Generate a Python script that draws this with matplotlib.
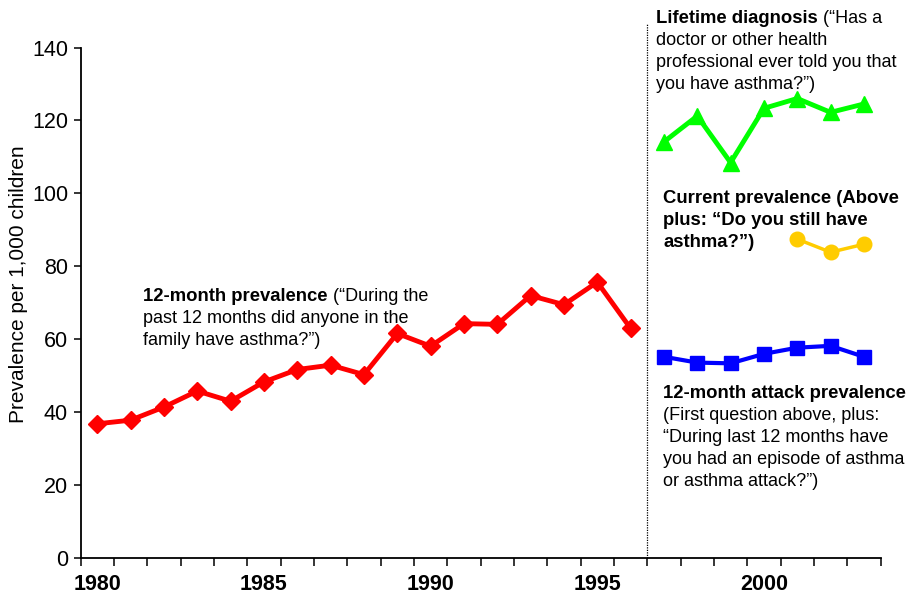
import matplotlib
matplotlib.use("Agg")
import matplotlib.pyplot as plt
from matplotlib import font_manager
from matplotlib.ticker import FixedLocator, NullFormatter

# ---- data ----
years_12m = list(range(1980, 1997))
prev_12m = [36.7, 37.7, 41.3, 45.7, 42.9, 48.2, 51.6, 52.8, 50.2, 61.5,
            58.0, 64.2, 64.0, 71.9, 69.4, 75.6, 62.9]
years_new = list(range(1997, 2004))
lifetime = [114.1, 121.2, 108.4, 123.3, 126.0, 122.2, 124.5]
attack_12m = [55.1, 53.5, 53.3, 55.9, 57.6, 58.1, 55.1]
years_current = [2001, 2002, 2003]
current = [87.4, 83.8, 86.0]
year_labels = [1980, 1985, 1990, 1995, 2000]
y_ticks = [0, 20, 40, 60, 80, 100, 120, 140]

names = {f.name for f in font_manager.fontManager.ttflist}
base_font = "Liberation Sans" if "Liberation Sans" in names else "DejaVu Sans"
narrow_font = "Liberation Sans Narrow" if "Liberation Sans Narrow" in names else base_font
plt.rcParams['font.family'] = [base_font, 'DejaVu Sans']

W, H = 910, 600
fig = plt.figure(figsize=(W / 100, H / 100), dpi=100)
ax_left, ax_right, ax_bottom, ax_top = 80.6, 880.6, 557.5, 47.5
ax = fig.add_axes([ax_left / W, 1 - ax_bottom / H, (ax_right - ax_left) / W,
                   (ax_bottom - ax_top) / H])

ax.plot(years_12m, prev_12m, color='#FF0000', lw=3.5, marker='D', ms=9,
        clip_on=False, zorder=3)
ax.plot(years_new, lifetime, color='#00FF00', lw=3.5, marker='^', ms=11,
        clip_on=False, zorder=3)
ax.plot(years_current, current, color='#FFCC00', lw=2.5, marker='o', ms=10.5,
        clip_on=False, zorder=3)
ax.plot(years_new, attack_12m, color='#0000FF', lw=3, marker='s', ms=9.5,
        clip_on=False, zorder=3)

ax.plot([1996.5, 1996.5], [0, 146.7], color='black', lw=0.9, ls=(0, (1, 1)),
        clip_on=False, zorder=2)

ax.set_xlim(1979.5, 2003.5)
ax.set_ylim(0, 140)
for s in ['top', 'right']:
    ax.spines[s].set_visible(False)
for s in ['left', 'bottom']:
    ax.spines[s].set_linewidth(1.3)

ax.set_yticks(y_ticks)
ax.set_yticklabels([str(v) for v in y_ticks], fontsize=15.5)
ax.tick_params(axis='y', direction='out', length=5, width=1.1, pad=4)

ax.set_xticks(year_labels)
ax.set_xticklabels([str(v) for v in year_labels], fontsize=15.5,
                   fontweight='bold', family=narrow_font)
ax.xaxis.set_minor_locator(FixedLocator([1979.5 + i for i in range(25)]))
ax.xaxis.set_minor_formatter(NullFormatter())
ax.tick_params(axis='x', which='major', length=0, pad=12)
ax.tick_params(axis='x', which='minor', direction='out', length=6, width=1.1)

ax.set_ylabel("Prevalence per 1,000 children", fontsize=15)
ax.yaxis.set_label_coords(-0.066, 0.535)

FS = 13
FSB = 13.3
LS = 22


def line(x, y, bold, regular=None):
    t = fig.text(x / W, 1 - y / H, bold, fontsize=FSB, fontweight='bold',
                 va='baseline', ha='left')
    if regular:
        ax.annotate(regular, xy=(1, 0), xycoords=t, va='bottom', ha='left',
                    fontsize=FS, annotation_clip=False)
    return t


def reg(x, y, s):
    fig.text(x / W, 1 - y / H, s, fontsize=FS, va='baseline', ha='left')


# Lifetime block
line(656, 23, "Lifetime diagnosis", " (\u201cHas a")
reg(656, 23 + LS, "doctor or other health")
reg(656, 23 + 2 * LS, "professional ever told you that")
reg(656, 23 + 3 * LS, "you have asthma?\u201d)")

# Current block
line(663, 203, "Current prevalence (Above")
line(663, 203 + LS, "plus: \u201cDo you still have")
line(663, 203 + 2 * LS, "asthma?\u201d)")

# Attack block
line(663, 398, "12-month attack prevalence")
reg(663, 398 + LS, "(First question above, plus:")
reg(663, 398 + 2 * LS, "\u201cDuring last 12 months have")
reg(663, 398 + 3 * LS, "you had an episode of asthma")
reg(663, 398 + 4 * LS, "or asthma attack?\u201d)")

# 12-month prevalence block
line(143, 301, "12-month prevalence", " (\u201cDuring the")
reg(143, 301 + LS, "past 12 months did anyone in the")
reg(143, 301 + 2 * LS, "family have asthma?\u201d)")

fig.savefig("out.png", dpi=100)
